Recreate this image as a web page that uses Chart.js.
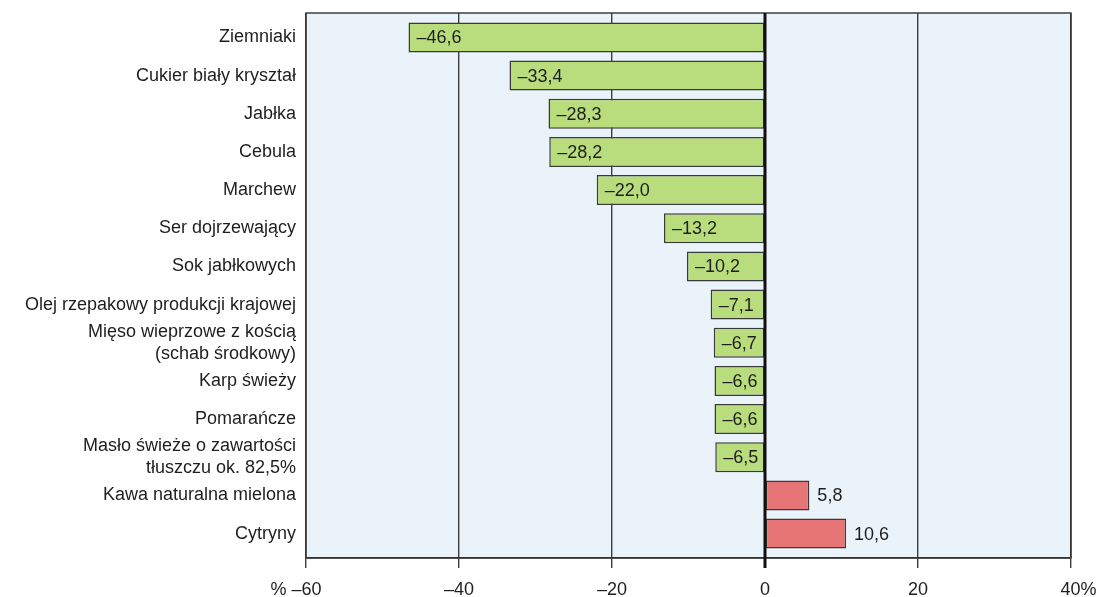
<!DOCTYPE html>
<html>
<head>
<meta charset="utf-8">
<script src="https://cdn.jsdelivr.net/npm/chart.js@4"></script>
<style>
  html, body { margin: 0; padding: 0; background: #fff; }
  #wrap { width: 1099px; height: 597px; }
</style>
</head>
<body>
<div id="wrap"><canvas id="priceChart"></canvas></div>
<script>
// Price change by product, %
const products = [
    "Ziemniaki",
    "Cukier biały kryształ",
    "Jabłka",
    "Cebula",
    "Marchew",
    "Ser dojrzewający",
    "Sok jabłkowych",
    "Olej rzepakowy produkcji krajowej",
    ["Mięso wieprzowe z kością", "(schab środkowy)"],
    "Karp świeży",
    "Pomarańcze",
    ["Masło świeże o zawartości", "tłuszczu ok. 82,5%"],
    "Kawa naturalna mielona",
    "Cytryny"
];
const changes = [-46.6, -33.4, -28.3, -28.2, -22.0, -13.2, -10.2, -7.1, -6.7, -6.6, -6.6, -6.5, 5.8, 10.6];
const xTicks = [-60, -40, -20, 0, 20, 40];
// spaces keep the number itself centred under the tick
const xTickLabels = ["% \u201360    ", "\u201340", "\u201320", "0", "20", "   40%"];

const FONT = "'Liberation Sans', Arial, sans-serif";

// format number the Polish way: en dash and decimal comma
function fmt(v) {
    const s = Math.abs(v).toFixed(1).replace(".", ",");
    return v < 0 ? "\u2013" + s : s;
}

// light blue plot background + frame
const plotBackground = {
    id: "plotBackground",
    beforeDraw(chart) {
        const { ctx, chartArea: a } = chart;
        ctx.save();
        ctx.fillStyle = "#eaf3fa";
        ctx.fillRect(a.left, a.top, a.right - a.left, a.bottom - a.top);
        ctx.restore();
    },
    afterDatasetsDraw(chart) {
        const { ctx, chartArea: a } = chart;
        ctx.save();
        ctx.strokeStyle = "#333";
        ctx.lineWidth = 1.4;
        ctx.strokeRect(a.left, a.top, a.right - a.left, a.bottom - a.top);
        // zero line on top of the bars
        const x0 = chart.scales.x.getPixelForValue(0);
        ctx.lineWidth = 3;
        ctx.strokeStyle = "#111";
        ctx.beginPath();
        ctx.moveTo(x0, a.top);
        ctx.lineTo(x0, a.bottom + 10);
        ctx.stroke();
        ctx.restore();
    }
};

// value labels: inside at bar start for negatives, outside for positives
const valueLabels = {
    id: "valueLabels",
    afterDatasetsDraw(chart) {
        const { ctx } = chart;
        const meta = chart.getDatasetMeta(0);
        ctx.save();
        ctx.font = "18px " + FONT;
        ctx.fillStyle = "#1e1e1e";
        ctx.textBaseline = "middle";
        ctx.textAlign = "left";
        meta.data.forEach((bar, i) => {
            ctx.fillText(fmt(changes[i]), bar.x + 8, bar.y + 1);
        });
        ctx.restore();
    }
};

new Chart(document.getElementById("priceChart"), {
    type: "bar",
    data: {
        datasets: [
            {
                data: changes.map((v, i) => ({ x: v, y: i })),
                backgroundColor: changes.map((v) => (v < 0 ? "#b9dc7d" : "#e87575")),
                borderColor: "#3a3a3a",
                borderWidth: 1.5,
                borderSkipped: false,
                categoryPercentage: 1,
                barPercentage: 0.785,
            },
        ],
    },
    options: {
        indexAxis: "y",
        responsive: true,
        maintainAspectRatio: false,
        animation: false,
        layout: { padding: { top: 13, right: 28, left: 0, bottom: 0 } },
        plugins: {
            legend: { display: false },
            tooltip: { enabled: false },
        },
        scales: {
            x: {
                min: -60,
                max: 40,
                afterBuildTicks: (scale) => {
                    scale.ticks = xTicks.map((v) => ({ value: v }));
                },
                afterFit: (scale) => {
                    scale.height = 39;
                    scale.paddingLeft = 0;
                    scale.paddingRight = 0;
                },
                ticks: {
                    callback: (value) => xTickLabels[xTicks.indexOf(value)],
                    color: "#1e1e1e",
                    font: { family: FONT, size: 18 },
                    padding: 11,
                    maxRotation: 0,
                    autoSkip: false,
                },
                grid: {
                    color: "#3c3c3c",
                    lineWidth: 1.4,
                    tickLength: 10,
                    drawTicks: true,
                },
                border: { display: true, color: "#333", width: 1.4 },
            },
            y: {
                type: "linear",
                reverse: true,
                offset: false,
                min: -0.64,
                max: products.length - 1 + 0.64,
                afterBuildTicks: (scale) => {
                    scale.ticks = products.map((p, i) => ({ value: i }));
                },
                afterFit: (scale) => {
                    scale.width = 306;
                    scale.paddingTop = 0;
                    scale.paddingBottom = 0;
                },
                ticks: {
                    callback: (value) => products[value],
                    color: "#1e1e1e",
                    font: { family: FONT, size: 18 },
                    padding: 10,
                    autoSkip: false,
                },
                grid: { display: false, drawTicks: false, offset: false },
                border: { display: false },
            },
        },
    },
    plugins: [plotBackground, valueLabels],
});
</script>
</body>
</html>
